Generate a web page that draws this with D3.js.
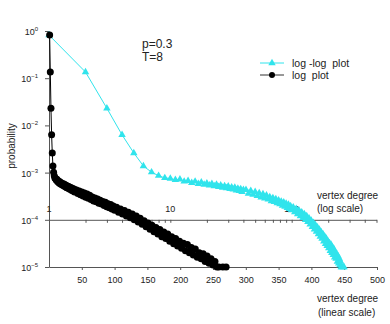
<!DOCTYPE html>
<html><head><meta charset="utf-8">
<script src="https://cdn.jsdelivr.net/npm/d3@7"></script>
<style>
html,body{margin:0;padding:0;background:#fff;}
svg{display:block;font-family:"Liberation Sans",Arial,sans-serif;}
</style></head>
<body>
<svg id="chart" width="390" height="324"></svg>
<script>
// vertex degree and its probability (same distribution, shown on linear and log x)
const degree = [
  1,2,3,4,5,6,7,8,9,10,11,12,13,14,15,16,17,18,19,20,
  21,22,23,24,25,26,27,28,29,30,31,32,33,34,35,36,37,38,39,40,
  42,44,46,48,50,52,54,56,58,60,62,64,66,68,70,72,74,76,78,80,
  82,84,86,88,90,92,94,96,98,100,
  103,106,109,112,115,118,121,124,127,130,133,136,139,142,145,148,151,154,157,160,
  163,166,169,172,175,178,181,184,187,190,193,196,199,202,205,208,211,214,217,220,
  223,226,229,232,235,238,241,244,247,250,253,256,259,265,270
];
const probability = [
  0.82,0.135,0.023,0.0063,0.0026,0.00138,0.00102,8.6e-4,7.7e-4,7.5e-4,
  7.0e-4,7.2e-4,6.5e-4,6.7e-4,6.1e-4,6.5e-4,5.8e-4,6.2e-4,5.6e-4,5.9e-4,
  5.4e-4,5.8e-4,5.2e-4,5.6e-4,5.0e-4,5.4e-4,4.8e-4,5.2e-4,4.7e-4,5.1e-4,
  4.5e-4,4.9e-4,4.4e-4,4.8e-4,4.2e-4,4.6e-4,4.1e-4,4.5e-4,3.9e-4,4.3e-4,
  4.3e-4,3.6e-4,4.1e-4,3.4e-4,3.9e-4,3.2e-4,3.7e-4,3.0e-4,3.5e-4,2.85e-4,
  3.3e-4,2.7e-4,3.05e-4,2.5e-4,2.9e-4,2.4e-4,2.75e-4,2.25e-4,2.6e-4,2.15e-4,
  2.45e-4,2.0e-4,2.35e-4,1.9e-4,2.2e-4,1.8e-4,2.1e-4,1.7e-4,1.95e-4,1.6e-4,
  1.85e-4,1.45e-4,1.7e-4,1.32e-4,1.58e-4,1.2e-4,1.45e-4,1.1e-4,1.33e-4,1.0e-4,
  1.2e-4,9.0e-5,1.08e-4,8.0e-5,9.6e-5,7.1e-5,8.6e-5,6.3e-5,7.7e-5,5.6e-5,
  6.9e-5,5.0e-5,6.2e-5,4.4e-5,5.5e-5,4.0e-5,5.0e-5,3.5e-5,4.4e-5,3.1e-5,
  4.0e-5,2.8e-5,3.5e-5,2.5e-5,3.2e-5,2.2e-5,3.0e-5,2.0e-5,2.6e-5,1.8e-5,
  2.4e-5,1.6e-5,2.0e-5,1.5e-5,1.9e-5,1.3e-5,1.7e-5,1.2e-5,1.5e-5,1.1e-5,
  1.3e-5,1.0e-5,1.0e-5,1.0e-5,1.0e-5
];
const yTickExponents = [0,-1,-2,-3,-4,-5];
const linearTicks = [50,100,150,200,250,300,350,400,450,500];
const logTickLabels = [1,10,100];
const seriesNames = ["log -log  plot","log  plot"];
const annotation = ["p=0.3","T=8"];

const data = degree.map((d,i)=>({d, p:probability[i]}));
const svg = d3.select("#chart");
const axisColor = "#555", textColor = "#222", cyan = "#30e4ec";

const y = d3.scaleLog().domain([1e-5,1]).range([267,31]);
const xLin = d3.scaleLinear().domain([0,500]).range([49,377]);
const xLog = d3.scaleLog().domain([1,500]).range([49,376.5]);

function styleAxis(g){
  g.selectAll("path,line").attr("stroke",axisColor).attr("stroke-width",1);
  g.selectAll("text").attr("fill",textColor).attr("font-family","Liberation Sans, Arial, sans-serif");
}

// Y axis
const yAx = svg.append("g").attr("transform","translate(49,0)")
  .call(d3.axisLeft(y).tickValues(yTickExponents.map(e=>Math.pow(10,e))).tickSize(4).tickSizeOuter(0).tickFormat(()=>""));
styleAxis(yAx);
yAx.selectAll(".tick").each(function(d){
  const e = Math.round(Math.log10(d));
  const t = d3.select(this).append("text").attr("x",-11).attr("y",3.5)
    .attr("text-anchor","end").attr("font-size",9).attr("fill",textColor);
  t.append("tspan").text("10");
  t.append("tspan").attr("font-size",6).attr("dy",-4).text(e===0?"0":"\u2212"+(-e));
});

// bottom linear axis
const xb = svg.append("g").attr("transform","translate(0,267)")
  .call(d3.axisBottom(xLin).tickValues(linearTicks).tickSize(3).tickSizeOuter(0).tickPadding(7));
styleAxis(xb);
xb.selectAll("text").attr("font-size",9);

// log axis at 10^-4
const logTicks = [];
[1,10,100].forEach(b=>{ for(let k=1;k<=9;k++){ const v=b*k; if(v<=500) logTicks.push(v);} });
const xl = svg.append("g").attr("transform",`translate(0,${y(1e-4)})`)
  .call(d3.axisBottom(xLog).tickValues(logTicks).tickSize(3).tickSizeOuter(0).tickFormat(()=>""));
styleAxis(xl);
svg.append("g").selectAll("text").data(logTickLabels).join("text")
  .attr("x",d=>xLog(d)).attr("y",y(1e-4)-8).attr("text-anchor","middle")
  .attr("font-size",9).attr("fill",textColor).text(d=>d);

// axis titles
const titles = svg.append("g").attr("fill",textColor).attr("font-size",10);
titles.append("text").attr("x",317).attr("y",199).text("vertex degree");
titles.append("text").attr("x",317).attr("y",212).text("(log scale)");
titles.append("text").attr("x",317).attr("y",302).text("vertex degree");
titles.append("text").attr("x",318).attr("y",316).text("(linear scale)");
titles.append("text").attr("transform","translate(15,146) rotate(-90)").attr("text-anchor","middle").text("probability");

// annotation
svg.append("g").attr("fill",textColor).attr("font-size",12)
  .selectAll("text").data(annotation).join("text")
  .attr("x",142).attr("y",(d,i)=>48+i*13).text(d=>d);

// cyan log-log series
svg.append("path").datum(data).attr("fill","none").attr("stroke",cyan).attr("stroke-width",1)
  .attr("d",d3.line().x(d=>xLog(d.d)).y(d=>y(d.p)));
const tri = d3.symbol().type(d3.symbolTriangle).size(24);
svg.append("g").attr("fill",cyan).selectAll("path").data(data).join("path")
  .attr("transform",d=>`translate(${xLog(d.d)},${y(d.p)})`).attr("d",tri);

// black linear series
svg.append("path").datum(data).attr("fill","none").attr("stroke","#000").attr("stroke-width",1)
  .attr("d",d3.line().x(d=>xLin(d.d)).y(d=>y(d.p)));
svg.append("g").attr("fill","#000").selectAll("circle").data(data).join("circle")
  .attr("cx",d=>xLin(d.d)).attr("cy",d=>y(d.p)).attr("r",3.5);

// legend
const lg = svg.append("g");
[[cyan,"tri"],["#000","dot"]].forEach(([c,m],i)=>{
  const yy = 63 + i*12;
  lg.append("line").attr("x1",260).attr("x2",284).attr("y1",yy).attr("y2",yy).attr("stroke",c==="#000"?"#333":c);
  if(m==="tri") lg.append("path").attr("d",tri).attr("fill",c).attr("transform",`translate(272,${yy})`);
  else lg.append("circle").attr("cx",272).attr("cy",yy).attr("r",3).attr("fill",c);
  lg.append("text").attr("x",292).attr("y",yy+3.5).attr("font-size",10.5).attr("fill",textColor)
    .style("white-space","pre").text(seriesNames[i]);
});
</script>
</body></html>
